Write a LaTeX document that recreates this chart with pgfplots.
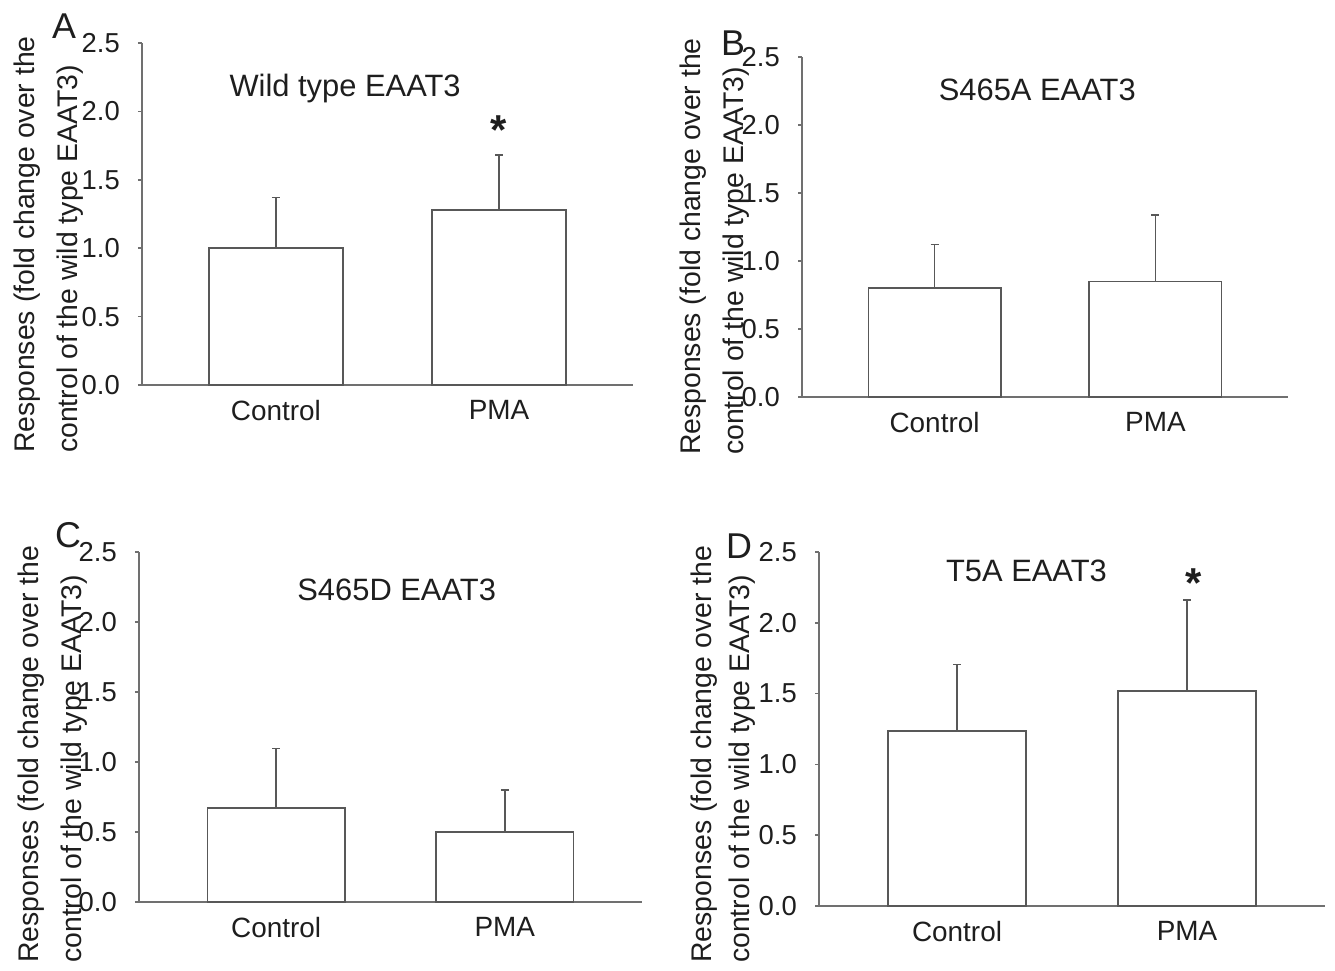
\documentclass[border=0pt]{standalone}
\usepackage{fontspec}
\setmainfont{Liberation Sans}
\usepackage{pgfplots}
\pgfplotsset{compat=1.18}
\usepackage{pgfplotstable}

\definecolor{axgray}{HTML}{707070}
\definecolor{bargray}{HTML}{585858}
\definecolor{txt}{HTML}{1E1E1E}

\pgfplotstableread{
x y e
1 1.00 0.37
2 1.28 0.40
}\dataA
\pgfplotstableread{
x y e
1 0.80 0.32
2 0.85 0.49
}\dataB
\pgfplotstableread{
x y e
1 0.67 0.425
2 0.50 0.30
}\dataC
\pgfplotstableread{
x y e
1 1.235 0.47
2 1.52 0.64
}\dataD

\pgfplotsset{
  panel/.style={
    scale only axis,
    anchor=south west,
    xmin=0.4, xmax=2.6, ymin=0, ymax=2.5,
    axis x line*=bottom, axis y line*=left,
    axis line style={draw=axgray, line width=1.8bp},
    xtick={1,2}, xticklabels={Control,PMA},
    ytick={0,0.5,1,1.5,2,2.5},
    /pgf/number format/assume math mode=true,
    yticklabel style={/pgf/number format/fixed, /pgf/number format/fixed zerofill, /pgf/number format/precision=1,
      font=\fontsize{27.5}{30}\selectfont, text=txt, inner sep=0pt, xshift=-18bp},
    xticklabel style={font=\fontsize{28}{30}\selectfont, text=txt, yshift=-8bp},
    tick align=outside, major tick length=4bp,
    ytick style={draw=axgray, line width=1.5bp},
    xtick style={draw=none},
    clip=false,
    ylabel={Responses (fold change over the\\control of the wild type EAAT3)},
  },
  ylab/.style n args={3}{ylabel style={at={(rel axis cs:#1,#2)}, anchor=north west, align=left, inner sep=0pt, text=txt,
      font=\fontsize{28.5}{#3}\selectfont}},
  barstyle/.style={ybar, bar width=0.6, fill=white, draw=bargray, line width=1.5bp,
    error bars/.cd, y dir=plus, y explicit,
    error bar style={draw=bargray, line width=1.5bp},
    error mark options={rotate=90, draw=bargray, line width=1.5bp, mark size=4bp}},
}

\begin{document}
\begin{tikzpicture}
\useasboundingbox (0,0) rectangle (1335bp,971bp);

% Panel A
\begin{axis}[panel, at={(142bp,586bp)}, width=491bp, height=342bp, ylab={-0.261}{-0.199}{43bp}]
\addplot[barstyle] table[x=x, y=y, y error=e] {\dataA};
\node[font=\fontsize{31}{34}\selectfont, text=txt] at (axis cs:1.31,2.17) {Wild type EAAT3};
\node[anchor=north, inner sep=0pt, font=\bfseries\fontsize{42}{44}\selectfont, text=txt] at (axis cs:2,1.97) {*};
\end{axis}

% Panel B
\begin{axis}[panel, at={(802bp,574bp)}, width=486bp, height=340bp, ylab={-0.251}{-0.171}{43bp}]
\addplot[barstyle] table[x=x, y=y, y error=e] {\dataB};
\node[font=\fontsize{31}{34}\selectfont, text=txt] at (axis cs:1.465,2.26) {S465A EAAT3};
\end{axis}

% Panel C
\begin{axis}[panel, at={(139bp,69bp)}, width=503bp, height=350bp, ylab={-0.241}{-0.174}{43bp}]
\addplot[barstyle] table[x=x, y=y, y error=e] {\dataC};
\node[font=\fontsize{31}{34}\selectfont, text=txt] at (axis cs:1.527,2.23) {S465D EAAT3};
\end{axis}

% Panel D
\begin{axis}[panel, at={(819bp,65bp)}, width=506bp, height=354bp, ylab={-0.253}{-0.161}{38bp}]
\addplot[barstyle] table[x=x, y=y, y error=e] {\dataD};
\node[font=\fontsize{31}{34}\selectfont, text=txt] at (axis cs:1.302,2.37) {T5A EAAT3};
\node[anchor=north, inner sep=0pt, font=\bfseries\fontsize{42}{44}\selectfont, text=txt] at (axis cs:2.03,2.38) {*};
\end{axis}

\node[font=\fontsize{36}{38}\selectfont, text=txt] at (64bp,945bp) {A};
\node[font=\fontsize{36}{38}\selectfont, text=txt] at (733bp,928bp) {B};
\node[font=\fontsize{36}{38}\selectfont, text=txt] at (68bp,436bp) {C};
\node[font=\fontsize{36}{38}\selectfont, text=txt] at (739bp,425bp) {D};
\end{tikzpicture}
\end{document}
